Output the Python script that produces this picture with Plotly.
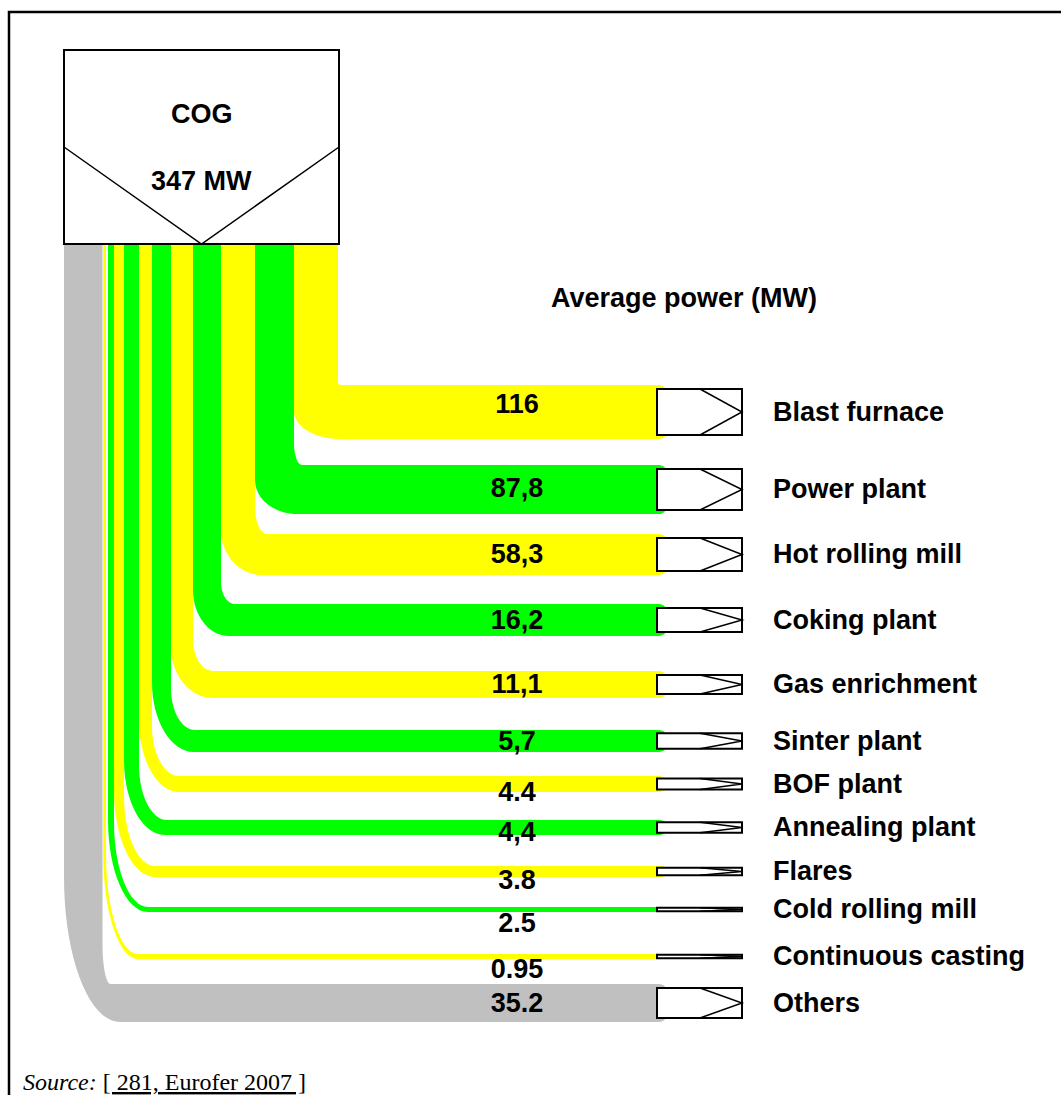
import plotly.graph_objects as go

# ---- data ----
source_name = "COG"
source_total_mw = 347
consumers = ["Blast furnace", "Power plant", "Hot rolling mill", "Coking plant",
             "Gas enrichment", "Sinter plant", "BOF plant", "Annealing plant",
             "Flares", "Cold rolling mill", "Continuous casting", "Others"]
power_mw = [116, 87.8, 58.3, 16.2, 11.1, 5.7, 4.4, 4.4, 3.8, 2.5, 0.95, 35.2]
power_text = ["116", "87,8", "58,3", "16,2", "11,1", "5,7", "4.4", "4,4",
              "3.8", "2.5", "0.95", "35.2"]
source_note = "[ 281, Eurofer 2007 ]"

# ---- drawing layout (pixel canvas of the sketch) ----
W, H = 1061, 1095
YELLOW, GREEN, GREY = "#FFFF00", "#00FF00", "#C0C0C0"
band_color = [YELLOW, GREEN, YELLOW, GREEN, YELLOW, GREEN, YELLOW, GREEN,
              YELLOW, GREEN, YELLOW, GREY]
col_left = [294, 255, 221, 193, 171, 152, 139, 124, 114, 108, 103.3, 64]
col_right = [338, 294, 255, 221, 193, 171, 152, 139, 124, 114, 106, 102.5]
row_top = [385, 465, 534, 604, 671, 730, 776, 820, 866, 907, 954, 984]
row_bot = [439, 514, 575, 636, 698, 752, 792, 835, 877, 912, 959, 1022]
rx_out = [46, 42, 41, 36, 42, 42, 40, 41, 41, 40, 35, 56]
ry_out = [28, 34, 45, 46, 51, 70, 72, 75, 87, 92, 105, 145]
rx_in = [3, 8, 12, 14, 20, 24, 27, 28, 31, 34, 32, 8]
ry_in = [3, 22, 28, 22, 32, 42, 50, 55, 70, 85, 100, 40]
label_shift = [-6, 1, 2, 2, 2, 2, 10, 7, 11, 16, 15, 2]
name_shift = 2

src_box = dict(x0=64, x1=339, y0=50, y1=244, yv=147)
band_start = src_box["y1"]
band_end = 667
tgt_x0, tgt_x1, tgt_tip = 657, 742, 700
value_x, name_x = 517, 773
K = 0.5523
FONT = "Liberation Sans"
FS = 27


def band_path(xl, xr, yt, yb, rxo, ryo, rxi, ryi):
    re = min(8, (yb - yt) / 2)
    xe = band_end
    p = [f"M{xl},{band_start}", f"L{xr},{band_start}", f"L{xr},{yt - ryi}",
         f"C{xr},{yt - ryi + K * ryi} {xr + rxi - K * rxi},{yt} {xr + rxi},{yt}",
         f"L{xe - re},{yt}",
         f"C{xe - re + K * re},{yt} {xe},{yt + re - K * re} {xe},{yt + re}",
         f"L{xe},{yb - re}",
         f"C{xe},{yb - re + K * re} {xe - re + K * re},{yb} {xe - re},{yb}",
         f"L{xl + rxo},{yb}",
         f"C{xl + rxo - K * rxo},{yb} {xl},{yb - ryo + K * ryo} {xl},{yb - ryo}",
         "Z"]
    return " ".join(p)


shapes = []
# outer frame
shapes.append(dict(type="rect", x0=9, y0=12, x1=W + 20, y1=H + 20, layer="below",
                   line=dict(color="black", width=2.5), fillcolor="rgba(0,0,0,0)"))

# flow bands
for i in range(len(consumers)):
    shapes.append(dict(
        type="path", layer="below",
        path=band_path(col_left[i], col_right[i], row_top[i], row_bot[i],
                       rx_out[i], ry_out[i], rx_in[i], ry_in[i]),
        fillcolor=band_color[i], line=dict(width=0)))

# source box with chevron
b = src_box
shapes.append(dict(type="rect", x0=b["x0"], x1=b["x1"], y0=b["y0"], y1=b["y1"],
                   layer="below", fillcolor="white", line=dict(color="black", width=2)))
xm = (b["x0"] + b["x1"]) / 2
shapes.append(dict(type="path", layer="below",
                   path=f"M{b['x0']},{b['yv']} L{xm},{b['y1']} L{b['x1']},{b['yv']}",
                   line=dict(color="black", width=1.5)))

# target boxes with arrow heads
for i in range(len(consumers)):
    h = row_bot[i] - row_top[i]
    inset = 4 if h > 30 else max(0.8, h * 0.15)
    y0, y1 = row_top[i] + inset, row_bot[i] - inset
    ym = (y0 + y1) / 2
    shapes.append(dict(type="rect", x0=tgt_x0, x1=tgt_x1, y0=y0, y1=y1, layer="below",
                       fillcolor="white", line=dict(color="black", width=2)))
    shapes.append(dict(type="path", layer="below",
                       path=f"M{tgt_tip},{y0} L{tgt_x1},{ym} L{tgt_tip},{y1}",
                       line=dict(color="black", width=1.5)))

row_mid = [(t + bt) / 2 for t, bt in zip(row_top, row_bot)]

fig = go.Figure()
fig.add_trace(go.Scatter(
    x=[value_x] * len(power_text),
    y=[m + s for m, s in zip(row_mid, label_shift)],
    text=power_text, mode="text", textposition="middle center",
    textfont=dict(family=FONT, size=FS, color="black", weight="bold"),
    hoverinfo="skip"))
fig.add_trace(go.Scatter(
    x=[name_x] * len(consumers), y=[m + name_shift for m in row_mid],
    text=consumers, mode="text", textposition="middle right",
    textfont=dict(family=FONT, size=FS, color="black", weight="bold"),
    hoverinfo="skip"))

annotations = [
    dict(x=xm, y=114, text=f"<b>{source_name}</b>"),
    dict(x=xm, y=181, text=f"<b>{source_total_mw} MW</b>"),
    dict(x=684, y=298, text="<b>Average power (MW)</b>"),
]
for a in annotations:
    a.update(xref="x", yref="y", showarrow=False, xanchor="center", yanchor="middle",
             font=dict(family=FONT, size=FS, color="black"))
annotations.append(dict(
    x=21, y=1082, xref="x", yref="y", showarrow=False, xanchor="left", yanchor="middle",
    text=f"<i>Source:</i> <u>{source_note}</u>",
    font=dict(family="Liberation Serif", size=24, color="black")))

fig.update_layout(
    width=W, height=H,
    margin=dict(l=0, r=0, t=0, b=0),
    paper_bgcolor="white", plot_bgcolor="white",
    showlegend=False,
    shapes=shapes,
    annotations=annotations,
)
fig.update_xaxes(range=[0, W], visible=False, fixedrange=True)
fig.update_yaxes(range=[H, 0], visible=False, fixedrange=True)

fig.write_html("out.html", config={"displayModeBar": False},
               post_script="document.body.style.margin='0';")
